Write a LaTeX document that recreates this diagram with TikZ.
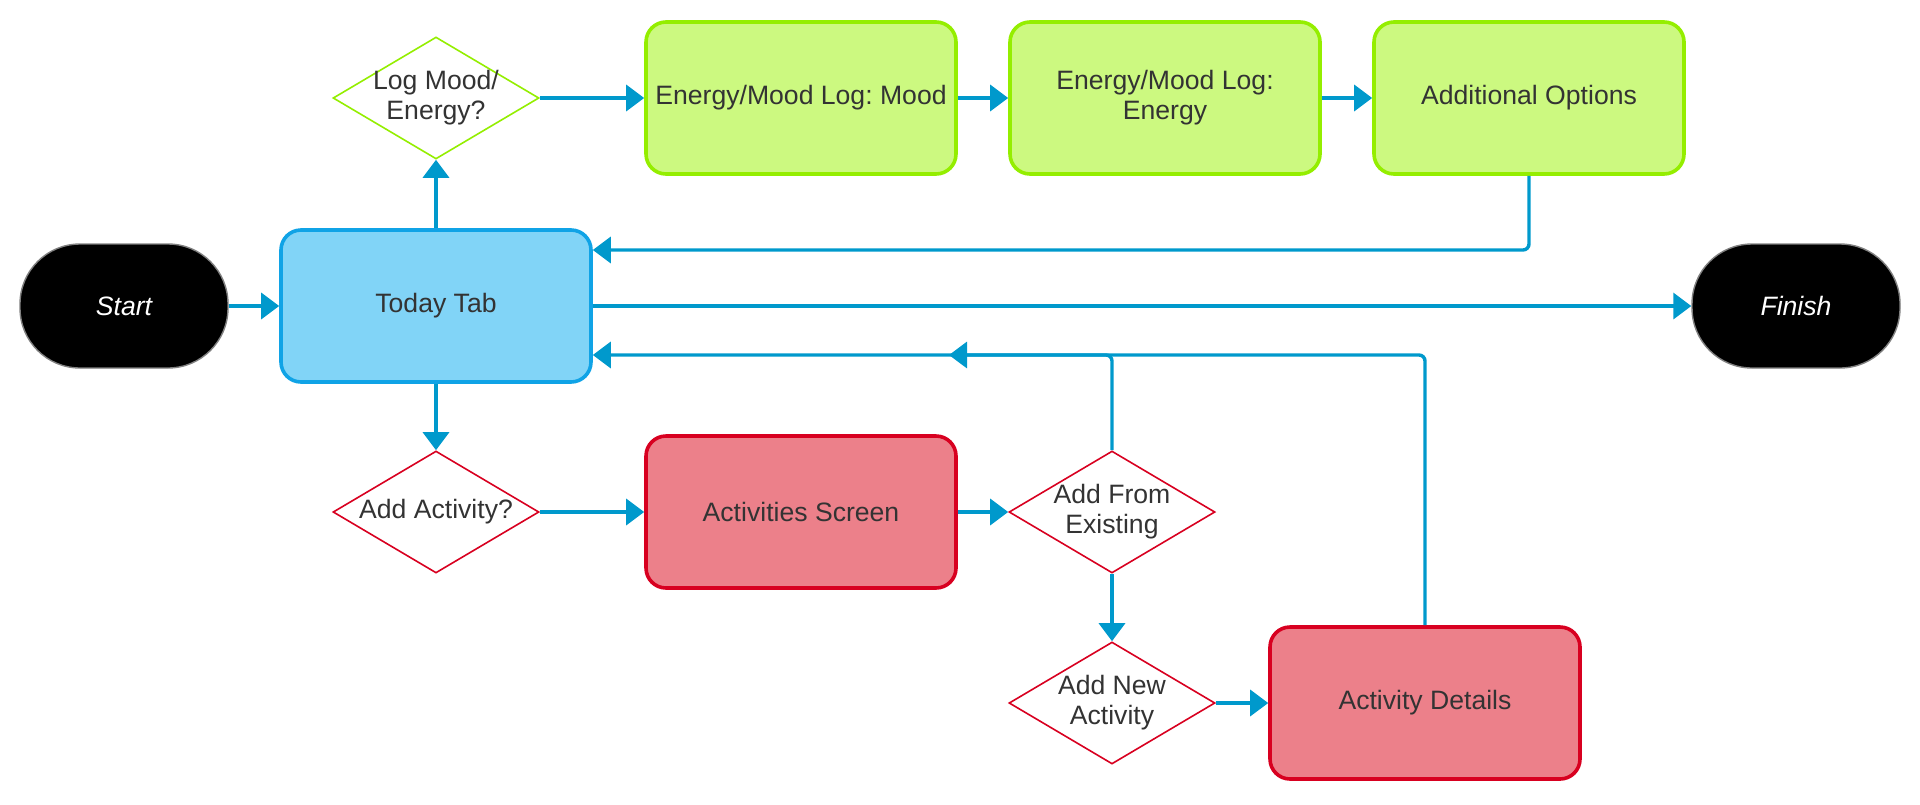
\documentclass[tikz,border=0pt]{standalone}
\usepackage{fontspec}
\setmainfont{Liberation Sans}
\frenchspacing
\usetikzlibrary{shapes.geometric,arrows.meta}

\definecolor{flowblue}{RGB}{0,153,204}
\definecolor{todayfill}{RGB}{129,212,247}
\definecolor{todayline}{RGB}{16,163,230}
\definecolor{logfill}{RGB}{204,249,128}
\definecolor{logline}{RGB}{148,238,0}
\definecolor{actfill}{RGB}{236,128,138}
\definecolor{actline}{RGB}{216,0,32}
\definecolor{txtgray}{RGB}{51,51,51}

\begin{document}
\begin{tikzpicture}[x=0.5pt, y=-0.5pt,
    every node/.style={font=\fontsize{13.3}{15}\selectfont, text=txtgray, align=center},
    box/.style={rectangle, rounded corners=10pt, line width=1.8pt, inner sep=2pt,
      minimum width=155pt, minimum height=76pt},
    todaybox/.style={box, draw=todayline, fill=todayfill},
    logbox/.style={box, draw=logline, fill=logfill},
    actbox/.style={box, draw=actline, fill=actfill},
    choice/.style={diamond, fill=white, line width=0.8pt, aspect=1.7, inner sep=-3pt,
      minimum width=103pt, minimum height=61pt},
    terminal/.style={rectangle, rounded corners=30pt, fill=black, draw=gray, line width=0.7pt,
      minimum width=104pt, minimum height=62pt, text=white,
      font=\fontsize{13.3}{15}\selectfont\itshape},
    flow/.style={draw=flowblue, line width=1.7pt, rounded corners=3pt,
      -{Triangle[length=9pt,width=13pt]}}]
  \useasboundingbox (0,0) rectangle (1920,804);

  % main row
  \node[terminal] (start) at (124,306) {Start};
  \node[todaybox] (today) at (436,306) {Today Tab};
  \node[terminal] (finish) at (1796,306) {Finish};

  % mood / energy log
  \node[choice, draw=logline] (logq) at (436,98) {Log Mood/\\Energy?};
  \node[logbox] (mood) at (801,98) {Energy/Mood Log: Mood};
  \node[logbox] (energy) at (1165,98) {Energy/Mood Log:\\Energy};
  \node[logbox] (addopt) at (1529,98) {Additional Options};

  % activities
  \node[choice, draw=actline] (actq) at (436,512) {Add Activity?};
  \node[actbox] (actscreen) at (801,512) {Activities Screen};
  \node[choice, draw=actline] (fromex) at (1112,512) {Add From\\Existing};
  \node[choice, draw=actline] (newact) at (1112,703) {Add New\\Activity};
  \node[actbox] (details) at (1425,703) {Activity Details};
  \coordinate (midtip) at (949,355);

  \draw[flow] (start) -- (today);
  \draw[flow] (today) -- (logq);
  \draw[flow] (logq) -- (mood);
  \draw[flow] (mood) -- (energy);
  \draw[flow] (energy) -- (addopt);
  \draw[flow] (addopt.south) |- (today.east |- 0,250);
  \draw[flow] (today) -- (finish);
  \draw[flow] (today) -- (actq);
  \draw[flow] (actq) -- (actscreen);
  \draw[flow] (actscreen) -- (fromex);
  \draw[flow] (fromex) -- (newact);
  \draw[flow] (newact) -- (details);
  \draw[flow] (fromex.north) |- (midtip);
  \draw[flow] (details.north) |- (today.east |- 0,355);
\end{tikzpicture}
\end{document}
